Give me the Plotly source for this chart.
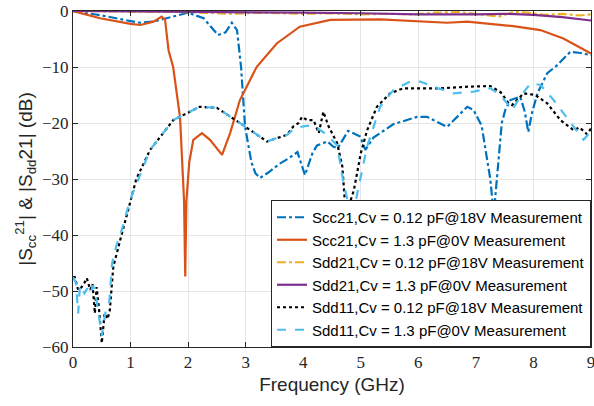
import plotly.graph_objects as go

# Scc21, Cv = 0.12 pF @ 18V
f_scc_012 = [0, 0.5, 1.0, 1.17, 1.4, 1.63, 2.0, 2.27, 2.52, 2.65, 2.76, 2.85, 2.92, 2.99, 3.1, 3.17,
             3.25, 3.4, 3.6, 3.75, 3.9, 4.03, 4.16, 4.24, 4.42, 4.52, 4.6, 4.78, 4.99, 5.08, 5.22,
             5.57, 5.98, 6.15, 6.5, 6.85, 6.96, 7.1, 7.17, 7.25, 7.31, 7.38, 7.45, 7.51, 7.6, 7.77,
             7.85, 7.91, 7.98, 8.07, 8.24, 8.4, 8.52, 8.64, 8.82, 9.0]
s_scc_012 = [0, -0.8, -1.8, -2.1, -1.9, -1.3, -0.3, -1.3, -4.3, -3.8, -2.1, -3.4, -10, -20.7, -27, -29,
             -29.8, -28.8, -27.2, -26.3, -25.2, -29.3, -25.4, -24, -23.3, -24.2, -24.5, -21.4, -22.4,
             -24.8, -22.6, -20.2, -18.9, -18.9, -20.7, -17.1, -17.7, -20.5, -24.8, -30, -36.4, -28,
             -20, -17.7, -15.9, -15.3, -18, -21.6, -18, -14.7, -11.1, -9.8, -8.6, -7.3, -7.5, -7.9]

# Scc21, Cv = 1.3 pF @ 0V
f_scc_13 = [0, 0.47, 1.0, 1.17, 1.4, 1.54, 1.6, 1.66, 1.74, 1.86, 1.93, 1.95, 1.97, 2.02, 2.09, 2.24,
            2.38, 2.59, 2.73, 2.9, 3.19, 3.54, 3.94, 4.06, 4.47, 5.34, 6.0, 6.5, 6.85, 7.65, 8.12,
            8.52, 9.0]
s_scc_13 = [0, -1.3, -2.3, -2.5, -1.9, -1.0, -1.6, -7, -10, -19, -34, -47.4, -34, -27, -23, -21.8,
            -23, -25.7, -21.8, -15.9, -10, -5.8, -2.8, -2.5, -1.6, -1.5, -1.8, -2.1, -1.9, -2.7, -3.4,
            -4.9, -7.6]

# Sdd21, Cv = 0.12 pF @ 18V
f_sdd21_012 = [0, 1, 2, 2.5, 2.8, 3.2, 4, 4.5, 5, 5.5, 5.9, 6.3, 6.7, 7.0, 7.4, 7.65, 7.9, 8.2, 8.5,
               8.8, 9.0]
s_sdd21_012 = [0, -0.1, -0.2, -0.4, -0.5, -0.3, -0.5, -0.4, -0.6, -0.5, -0.6, -0.3, -0.2, -0.5,
               -1.0, -0.2, -0.3, -0.7, -0.5, -0.8, -0.6]

# Sdd21, Cv = 1.3 pF @ 0V
f_sdd21_13 = [0, 1, 2, 3, 4, 5, 6, 7, 7.5, 8, 8.5, 9]
s_sdd21_13 = [0, -0.05, -0.1, -0.2, -0.3, -0.4, -0.6, -0.6, -0.5, -0.7, -1.1, -1.7]

# Sdd11, Cv = 0.12 pF @ 18V
f_sdd11_012 = [0, 0.03, 0.09, 0.15, 0.2, 0.24, 0.3, 0.34, 0.38, 0.41, 0.45, 0.5, 0.55, 0.6, 0.64,
               0.7, 0.82, 0.94, 1.1, 1.34, 1.74, 2.2, 2.5, 2.9, 3.37, 3.72, 3.83, 3.92, 3.98, 4.07,
               4.18, 4.27, 4.35, 4.44, 4.59, 4.68, 4.74, 4.79, 4.88, 5.0, 5.11, 5.28, 5.51, 5.74,
               6.03, 6.38, 6.9, 7.25, 7.43, 7.57, 7.63, 7.83, 8.03, 8.24, 8.47, 8.7, 8.8, 8.93, 9.0]
s_sdd11_012 = [-47.5, -47.5, -49.8, -49.3, -48.5, -47.7, -49.8, -48.8, -54, -49.3, -53, -59.3, -54,
               -55, -53.4, -45.7, -40.9, -36, -30, -24.8, -19.5, -17.1, -17.3, -20, -23.3, -22.1,
               -20.6, -20, -18.9, -19.5, -19.5, -21.8, -18, -20.6, -23.6, -27.8, -36.4, -34.9, -32,
               -25.4, -21.3, -17.1, -14.7, -13.8, -13.8, -13.8, -13.5, -13.4, -14.5, -16.5, -16.8,
               -14.7, -15, -16.5, -19.5, -21.3, -20.8, -22, -21]

# Sdd11, Cv = 1.3 pF @ 0V
f_sdd11_13 = [0, 0.05, 0.09, 0.12, 0.2, 0.25, 0.3, 0.35, 0.4, 0.45, 0.5, 0.58, 0.63, 0.68, 0.75, 0.85,
              0.99, 1.34, 1.74, 2.2, 2.5, 2.9, 3.37, 3.72, 3.86, 4.0, 4.16, 4.24, 4.4, 4.59, 4.7,
              4.85, 4.94, 5.11, 5.34, 5.57, 5.86, 6.03, 6.26, 6.61, 6.96, 7.25, 7.43, 7.63, 7.77,
              7.95, 8.12, 8.35, 8.59, 8.87, 9.0]
s_sdd11_13 = [-47.5, -48.5, -54, -49, -50.4, -49.5, -50.5, -49, -51, -55, -58, -52.8, -52, -45, -42,
              -39, -33.8, -24.8, -19.5, -17.1, -17.3, -20, -23.3, -22.1, -20.9, -20.6, -20.4, -20.9,
              -22, -24, -30.7, -37.5, -32.5, -24.2, -17, -14.1, -12.6, -12.6, -13.5, -14.7, -14.4,
              -13.8, -15, -17.7, -15.3, -12.9, -13.2, -15.9, -19.1, -23, -21.5]

series = [
    (f_scc_012, s_scc_012, "Scc21,Cv = 0.12 pF@18V Measurement", "#0072BD", "dashdot"),
    (f_scc_13, s_scc_13, "Scc21,Cv = 1.3 pF@0V Measurement", "#D95319", "solid"),
    (f_sdd21_012, s_sdd21_012, "Sdd21,Cv = 0.12 pF@18V Measurement", "#EDB120", "dashdot"),
    (f_sdd21_13, s_sdd21_13, "Sdd21,Cv = 1.3 pF@0V Measurement", "#7E2F8E", "solid"),
    (f_sdd11_012, s_sdd11_012, "Sdd11,Cv = 0.12 pF@18V Measurement", "#000000", "dot"),
    (f_sdd11_13, s_sdd11_13, "Sdd11,Cv = 1.3 pF@0V Measurement", "#4DBEEE", "dash"),
]

fig = go.Figure()
for x, y, name, color, dash in series:
    fig.add_trace(go.Scatter(x=x, y=y, name=name, mode="lines",
                             line=dict(color=color, width=2.2, dash=dash)))

axis_style = dict(
    showline=True, mirror="ticks", linecolor="#262626", linewidth=1,
    ticks="inside", ticklen=5, tickcolor="#262626",
    showgrid=True, gridcolor="#e6e6e6", zeroline=False,
    ticklabeloverflow="allow",
    tickfont=dict(family="Liberation Serif, Times New Roman, serif", size=17, color="#262626"),
)

fig.update_xaxes(range=[0, 9], dtick=1, **axis_style,
                 title=dict(text="Frequency (GHz)", standoff=6,
                            font=dict(family="Liberation Sans", size=19, color="#262626")))
fig.update_yaxes(range=[-60, 0], dtick=10, **axis_style,
                 title=dict(text="|S<sub>cc</sub><sup>21</sup>| & |S<sub>dd</sub>21| (dB)", standoff=4,
                            font=dict(family="Liberation Sans", size=19, color="#262626")))

fig.update_layout(
    width=594, height=406,
    margin=dict(l=73, r=3, t=11, b=59, autoexpand=False),
    plot_bgcolor="white", paper_bgcolor="white",
    legend=dict(x=1, y=0, xanchor="right", yanchor="bottom",
                bgcolor="white", bordercolor="#262626", borderwidth=1,
                font=dict(family="Liberation Sans", size=15, color="black"),
                tracegroupgap=0, itemwidth=30),
    showlegend=True,
)

# drop the browser's default page margin so the figure sits at the window origin
fig.write_html("out.html", config={"displayModeBar": False},
               post_script="document.body.style.margin='0';")
